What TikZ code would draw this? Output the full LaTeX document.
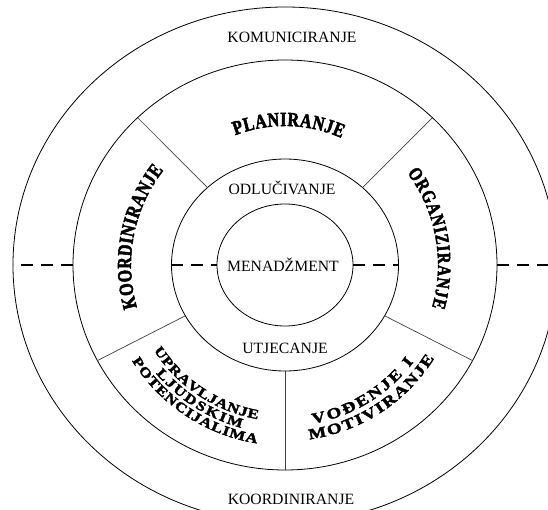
\documentclass[tikz,border=0pt]{standalone}
\usepackage{fontspec}
\setmainfont{Liberation Serif}
\newfontfamily\archfont{Liberation Serif}[FakeStretch=0.8,FakeBold=2.5]
\newfontfamily\widearchfont{Liberation Serif}[FakeStretch=1.25,FakeBold=2.5]
\newcommand\bigarch{\archfont\bfseries\fontsize{20}{20}\selectfont}
\newcommand\sidearch{\archfont\bfseries\fontsize{19}{19}\selectfont}
\newcommand\lowarch{\widearchfont\bfseries\fontsize{13.5}{13.5}\selectfont}
\newcommand\midarch{\widearchfont\bfseries\fontsize{15}{15}\selectfont}
\usetikzlibrary{shapes.geometric}
\usetikzlibrary{decorations.text}

\begin{document}
\begin{tikzpicture}[x=1pt,y=1pt,
    ring/.style={draw,ellipse,inner sep=0pt,outer sep=0pt,line width=0.8pt},
    divider/.style={draw=black!75,line width=0.7pt},
    axis/.style={draw,line width=2pt,dash pattern=on 12pt off 8pt},
    ringname/.style={anchor=base,inner sep=0pt,font=\fontsize{15.7}{18}\selectfont},
    arctext/.style={decorate,decoration={text along path,text align={fit to path},text={#1}}}]
            \useasboundingbox (-285,-244) rectangle (263,265);
            \clip (-285,-244) rectangle (263,265);
            \coordinate (O) at (0,0);
            \node[ring,minimum width=544pt,minimum height=516pt] (outer) at (O) {};
            \node[ring,minimum width=424pt,minimum height=410pt] (act) at (O) {};
            \node[ring,minimum width=227pt,minimum height=212pt] (dec) at (O) {};
            \node[ring,minimum width=136pt,minimum height=122pt] (core) at (O) {};
            \draw[divider] (dec.45) -- (act.45);
            \draw[divider] (dec.135) -- (act.135);
            \draw[divider] (dec.207) -- (act.207);
            \draw[divider] (dec.-27) -- (act.-27);
            \draw[divider] (dec.south) -- (act.south);
            \draw[axis] (act.west) -- (outer.west);
            \draw[axis] (dec.west) -- (core.west);
            \draw[axis] (core.east) -- (dec.east);
            \draw[axis] (act.east) -- (outer.east);
            \node[ringname] (comm) at (7,222) {KOMUNICIRANJE};
            \node[ringname] (coord) at (6,-239) {KOORDINIRANJE};
            \node[ringname] (decname) at (-3,71) {ODLUČIVANJE};
            \node[ringname] (actname) at (0,-88) {UTJECANJE};
            \node[ringname] (corename) at (-2,-6) {MENADŽMENT};
            \path[arctext={|\bigarch|PLANIRANJE}] (111:139) arc[start angle=111,end angle=66,radius=139pt];
            \path[arctext={|\bigarch|KOORDINIRANJE}] (196:154) arc[start angle=196,end angle=142,radius=154pt];
            \path[arctext={|\sidearch|ORGANIZIRANJE}] (37:153) arc[start angle=37,end angle=-16,radius=153pt];
            \path[arctext={|\lowarch|UPRAVLJANJE}] (213:156.5) arc[start angle=213,end angle=260,radius=156.5pt];
            \path[arctext={|\lowarch|LJUDSKIM}] (220:168.5) arc[start angle=220,end angle=255,radius=168.5pt];
            \path[arctext={|\lowarch|POTENCIJALIMA}] (212:180.5) arc[start angle=212,end angle=261,radius=180.5pt];
            \path[arctext={|\midarch|VOĐENJE I}] (-80:161) arc[start angle=-80,end angle=-37,radius=161pt];
            \path[arctext={|\midarch|MOTIVIRANJE}] (-82:176) arc[start angle=-82,end angle=-32,radius=176pt];
        \end{tikzpicture}
\end{document}
